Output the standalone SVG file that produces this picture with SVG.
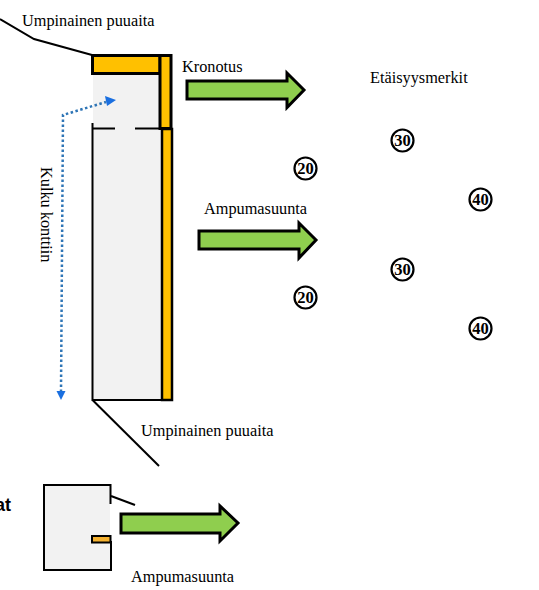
<svg xmlns="http://www.w3.org/2000/svg" width="539" height="590" viewBox="0 0 539 590">
<style>
.t{font-family:"Liberation Serif","Times New Roman",serif;font-size:16.3px;fill:#000}
.n{font-family:"Liberation Serif","Times New Roman",serif;font-size:16.5px;font-weight:bold;fill:#000;text-anchor:middle}
.c{fill:#fff;stroke:#000;stroke-width:2.2}
.a{fill:#8fce4e;stroke:#000;stroke-width:3}
.o{fill:#ffc000;stroke:#000;stroke-width:3}
.l{fill:none;stroke:#000;stroke-width:2}
.g{fill:#f2f2f2}
</style>
<g id="container-main">
<rect class="g" x="93" y="74" width="68" height="326"/>
<rect class="o" x="92.500" y="55.500" width="67.500" height="18"/>
<rect class="o" x="160" y="55.500" width="11" height="73"/>
<path class="l" d="M92.500 123V400H172M92 128.500H115M135 128.500H162"/>
<rect class="o" x="162" y="129" width="10" height="271" style="stroke-width:2.500"/>
</g>
<g id="container-small">
<rect class="g" x="44" y="485" width="66" height="85"/>
<path class="l" d="M110.500 504V485H44V570H111V541"/>
<rect x="92" y="536" width="18.500" height="6.500" fill="#f4b130" stroke="#000" stroke-width="2"/>
</g>
<g id="connectors">
<path class="l" d="M0 19L34 39L92 55"/>
<path class="l" d="M92.500 400L159 466"/>
<path class="l" d="M111 496L135 505"/>
<path d="M61 392L63 115L106 102" fill="none" stroke="#2e75b6" stroke-width="2.500" stroke-dasharray="2.500 2.500"/>
<path d="M116 100L105 96L107 106Z" fill="#1a6fe0"/>
<path d="M56.500 391H65.500L61 400Z" fill="#1a6fe0"/>
</g>
<g id="arrow-kronotus"><path class="a" d="M187 81H287V73L304 90L287 107.500V99H187Z"/></g>
<g id="arrow-ampumasuunta"><path class="a" d="M199 231H299V223L316 240L299 258V249H199Z"/></g>
<g id="arrow-small"><path class="a" d="M121 514H220V506L238 523L220 541V533H121Z"/></g>
<g id="mark-30a"><circle class="c" cx="402.500" cy="140.500" r="11"/><text class="n" x="402.500" y="146">30</text></g>
<g id="mark-20a"><circle class="c" cx="305.500" cy="168.500" r="11"/><text class="n" x="305.500" y="174">20</text></g>
<g id="mark-40a"><circle class="c" cx="480.500" cy="199.500" r="11"/><text class="n" x="480.500" y="205">40</text></g>
<g id="mark-30b"><circle class="c" cx="402.500" cy="269.500" r="11"/><text class="n" x="402.500" y="275">30</text></g>
<g id="mark-20b"><circle class="c" cx="305.500" cy="297.500" r="11"/><text class="n" x="305.500" y="303">20</text></g>
<g id="mark-40b"><circle class="c" cx="480.500" cy="328.500" r="11"/><text class="n" x="480.500" y="334">40</text></g>
<text class="t" x="22" y="26">Umpinainen puuaita</text>
<text class="t" x="182" y="72">Kronotus</text>
<text class="t" x="370" y="83">Etäisyysmerkit</text>
<text class="t" x="204" y="214">Ampumasuunta</text>
<text class="t" x="141" y="436">Umpinainen puuaita</text>
<text class="t" x="131" y="582">Ampumasuunta</text>
<text class="t" transform="translate(41,167) rotate(90)">Kulku konttiin</text>
<text x="-5" y="511" font-family="'Liberation Sans',Arial,sans-serif" font-size="18" font-weight="bold">at</text>
</svg>
